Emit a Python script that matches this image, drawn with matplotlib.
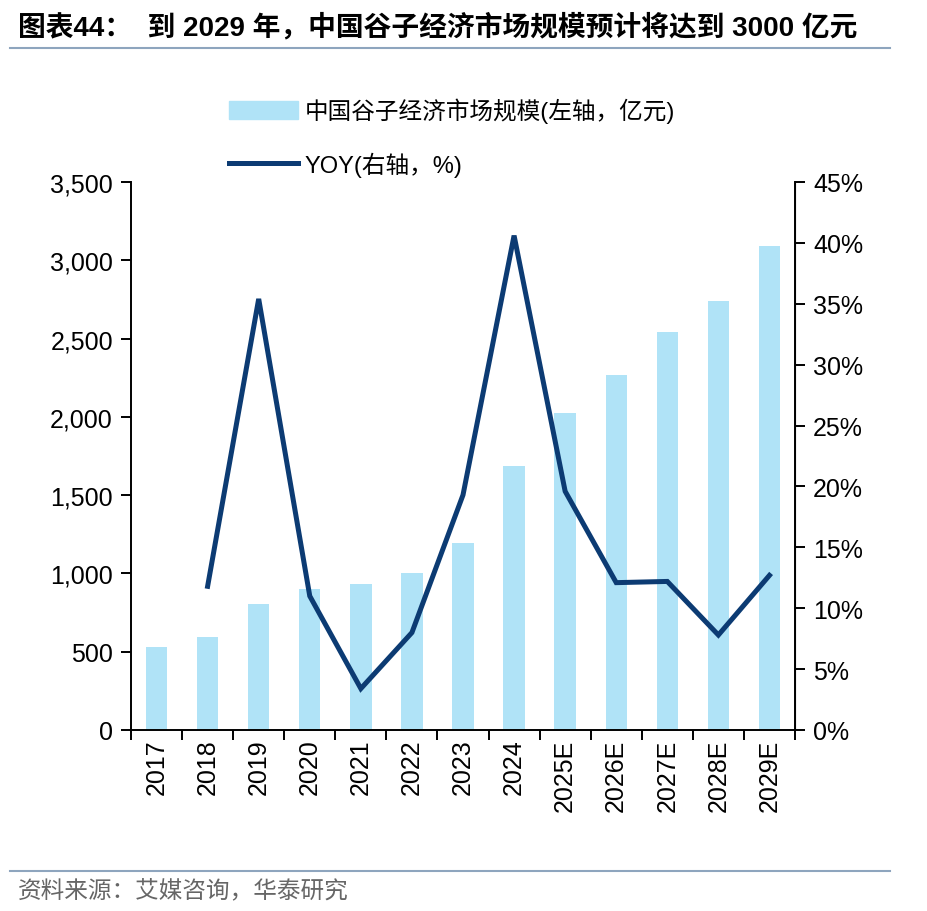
import numpy as np
import matplotlib
matplotlib.use('Agg')
import matplotlib.pyplot as plt
from matplotlib.ticker import FuncFormatter, FixedLocator
from matplotlib.lines import Line2D
from matplotlib.patches import Patch

plt.rcParams['font.family'] = ['Liberation Sans', 'Noto Sans CJK SC', 'DejaVu Sans']

years = ['2017', '2018', '2019', '2020', '2021', '2022', '2023', '2024',
         '2025E', '2026E', '2027E', '2028E', '2029E']
market = [530, 594, 805, 900, 932, 1003, 1194, 1686, 2025, 2267, 2542, 2740, 3091]
yoy = [np.nan, 11.8, 35.4, 11.0, 3.4, 8.0, 19.3, 40.6, 19.6, 12.1, 12.2, 7.8, 12.7]

bar_color = '#B0E3F7'
line_color = '#0C3B73'

fig = plt.figure(figsize=(9.28, 9.12), dpi=100)
ax = fig.add_axes([131 / 928, 1 - 731 / 912, 664 / 928, 548 / 912])
ax2 = ax.twinx()

x = np.arange(len(years))
ax.bar(x, market, width=0.42, color=bar_color, zorder=2)
ax2.plot(x, yoy, color=line_color, lw=3.6, solid_joinstyle='miter', zorder=3)

ax.set_xlim(-0.5, len(years) - 0.5)
ax.set_ylim(0, 3500)
ax.set_yticks(np.arange(0, 3501, 500))
ax.yaxis.set_major_formatter(FuncFormatter(lambda v, p: f'{int(v):,}'))
ax2.set_ylim(0, 45)
ax2.set_yticks(np.arange(0, 46, 5))
ax2.yaxis.set_major_formatter(FuncFormatter(lambda v, p: f'{int(v)}%'))

ax.set_xticks(x)
ax.set_xticklabels(years, rotation=90)
ax.xaxis.set_minor_locator(FixedLocator(np.arange(-0.5, len(years), 1)))
ax.tick_params(axis='x', which='major', length=0, labelsize=18, pad=6)
ax.tick_params(axis='x', which='minor', length=7, width=1.4, direction='out')
ax.tick_params(axis='y', length=7, width=1.4, direction='out', labelsize=18, pad=6)
ax2.tick_params(axis='y', length=7, width=1.4, direction='out', labelsize=18, pad=6)

for a in (ax, ax2):
    a.spines['top'].set_visible(False)
for s in ('left', 'bottom'):
    ax.spines[s].set_linewidth(1.4)
ax2.spines['right'].set_linewidth(1.4)
ax2.spines['left'].set_visible(False)
ax2.spines['bottom'].set_visible(False)

handles = [Patch(color=bar_color), Line2D([0], [0], color=line_color, lw=3.6)]
labels = ['中国谷子经济市场规模(左轴，亿元)', 'YOY(右轴，%)']
fig.legend(handles, labels, loc='upper left', bbox_to_anchor=(0.224, 0.915),
           frameon=False, handlelength=2.9, handleheight=0.8,
           handletextpad=0.3, labelspacing=1.2,
           prop={'family': ['Liberation Sans', 'Noto Sans CJK SC'], 'size': 17})

fig.text(18 / 928, 1 - 28 / 912, '图表44：  到 2029 年，中国谷子经济市场规模预计将达到 3000 亿元',
         fontsize=20, fontweight='bold', va='center', ha='left',
         family=['Liberation Sans', 'Noto Sans CJK SC'])
fig.add_artist(Line2D([10 / 928, 890 / 928], [1 - 49 / 912, 1 - 49 / 912],
                      color='#8EA5BE', lw=1.5))
fig.add_artist(Line2D([10 / 928, 890 / 928], [1 - 872 / 912, 1 - 872 / 912],
                      color='#8EA5BE', lw=1.5))
fig.text(18 / 928, 1 - 891 / 912, '资料来源：艾媒咨询，华泰研究', fontsize=17,
         color='#666666', va='center', ha='left', family=['Noto Sans CJK SC'])

fig.savefig('out.png', dpi=100)
